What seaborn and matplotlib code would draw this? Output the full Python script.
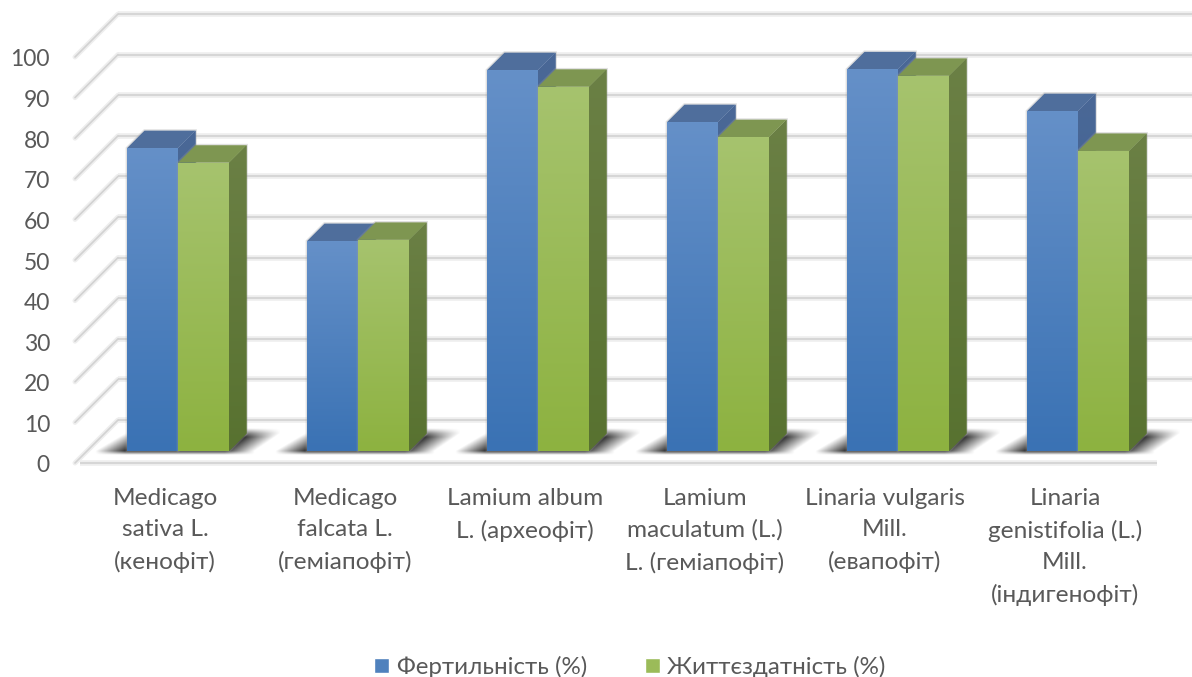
import numpy as np
import pandas as pd
import matplotlib
matplotlib.use("Agg")
import matplotlib.pyplot as plt
from matplotlib.colors import to_rgb
from matplotlib.patches import Patch, Polygon
import seaborn as sns

categories = [
    "Medicago\nsativa L.\n(кенофіт)",
    "Medicago\nfalcata L.\n(геміапофіт)",
    "Lamium album\nL. (археофіт)",
    "Lamium\nmaculatum (L.)\nL. (геміапофіт)",
    "Linaria vulgaris\nMill.\n(евапофіт)",
    "Linaria\ngenistifolia (L.)\nMill.\n(індигенофіт)",
]
fertility = [74.6, 51.7, 93.8, 81.0, 94.0, 83.7]
viability = [71.0, 52.0, 89.7, 77.3, 92.4, 73.9]
series_names = ["Фертильність (%)", "Життєздатність (%)"]
y_ticks = list(range(0, 101, 10))

WIDTH, HEIGHT = 1192, 677
STEP_PX = 180.0        # pixels per category
UNIT_PX = 4.06         # pixels per percent
ORIGIN_X, ORIGIN_Y = 178.0, 451.0   # first group centre, bar base line

def px(x):
    return (x - ORIGIN_X) / STEP_PX

def py(y):
    return (ORIGIN_Y - y) / UNIT_PX

DX, DY = 17.5 / STEP_PX, 17.5 / UNIT_PX   # bar depth
TEXT = "#595959"
FONT = ["Lato", "Open Sans", "DejaVu Sans"]

sns.set_theme(style="white")
plt.rcParams["font.family"] = FONT

df = pd.DataFrame({
    "species": categories * 2,
    "value": fertility + viability,
    "series": [series_names[0]] * len(categories) + [series_names[1]] * len(categories),
})

fig = plt.figure(figsize=(WIDTH / 100, HEIGHT / 100), dpi=100)
ax = fig.add_axes([0, 0, 1, 1])
sns.barplot(data=df, x="species", y="value", hue="series", order=categories,
            hue_order=series_names, palette=["#4f81bd", "#9bbb59"], width=102 / STEP_PX,
            gap=0, legend=False, errorbar=None, saturation=1, linewidth=0, ax=ax)

xlim = (px(0), px(WIDTH))
ylim = (py(HEIGHT), py(0))


def gradient_fill(patch, top, bottom, zorder):
    """Paint a vertical colour gradient inside a polygon or bar patch."""
    verts = patch.get_path().vertices if isinstance(patch, Polygon) else patch.get_corners()
    x0, x1 = verts[:, 0].min(), verts[:, 0].max()
    y0, y1 = verts[:, 1].min(), verts[:, 1].max()
    t = np.linspace(0, 1, 128)[:, None, None]
    img = (1 - t) * np.array(to_rgb(top))[None, None, :] + t * np.array(to_rgb(bottom))[None, None, :]
    im = ax.imshow(img, extent=(x0, x1, y0, y1), origin="upper", aspect="auto",
                   zorder=zorder, interpolation="bilinear")
    im.set_clip_path(patch)


# Walls and floor grid
wall_dy, front_dy = py(420), py(463)
wall_x, front_x = px(118), px(75)
for v in y_ticks:
    ax.plot([wall_x, xlim[1]], [v + wall_dy] * 2, color="#eeeeee", lw=4, zorder=1, solid_capstyle="butt")
    ax.plot([wall_x, xlim[1]], [v + wall_dy] * 2, color="#d2d2d2", lw=1.2, zorder=1.1, solid_capstyle="butt")
    ax.plot([front_x, wall_x], [v + front_dy, v + wall_dy], color="#eeeeee", lw=3.6, zorder=1)
    ax.plot([front_x, wall_x], [v + front_dy, v + wall_dy], color="#d2d2d2", lw=1.2, zorder=1.1)
ax.plot([px(80), px(1157)], [front_dy] * 2, color="#eeeeee", lw=4, zorder=1, solid_capstyle="butt")
ax.plot([px(80), px(1157)], [front_dy] * 2, color="#d2d2d2", lw=1.2, zorder=1.1, solid_capstyle="butt")

# Soft floor shadows behind each group
blue_bars, green_bars = ax.containers[0], ax.containers[1]
for k, (b, g) in enumerate(zip(blue_bars, green_bars)):
    left, right = b.get_x(), g.get_x() + g.get_width()
    xs = np.linspace(left - 60 / STEP_PX, right + 80 / STEP_PX, 320)
    ys = np.linspace(py(458), py(424), 70)
    X, Y = np.meshgrid(xs, ys)
    t = np.clip((Y - py(451)) / (py(433) - py(451)), 0, 1)
    edge_l = left - (32 - 30 * t) / STEP_PX
    edge_r = right + (26 + 26 * t) / STEP_PX
    fade = 30 / STEP_PX
    a_x = np.clip((X - edge_l) / fade, 0, 1) * np.clip((edge_r - X) / fade, 0, 1)
    a_y = np.clip((Y - py(455)) / (py(451) - py(455)), 0, 1) * np.clip((py(428) - Y) / (py(428) - py(437)), 0, 1)
    shade = np.zeros(X.shape + (4,))
    shade[..., 3] = 0.8 * a_x * a_y
    ax.imshow(shade, extent=(xs[0], xs[-1], ys[0], ys[-1]), origin="lower", aspect="auto",
              zorder=2, interpolation="bilinear")

# Extruded bars: blue first, green in front of it
styles = [
    (blue_bars, "#6590c8", "#3a72b4", "#4a6896", "#3a5f96", "#4f6e9c"),
    (green_bars, "#a6c36e", "#8db240", "#6b8045", "#587230", "#7e9651"),
]
for s, (bars, top, bottom, side_top, side_bottom, cap) in enumerate(styles):
    for b in bars:
        x0, w, h = b.get_x(), b.get_width(), b.get_height()
        z = 3 + s * 2
        outline = [(x0, 0), (x0, h), (x0 + DX, h + DY), (x0 + w + DX, h + DY), (x0 + w + DX, DY), (x0 + w, 0)]
        ax.add_patch(Polygon(outline, closed=True, fc="none", ec="#9a9a9a", lw=2.0, alpha=0.3, zorder=z - 0.1))
        side = Polygon([(x0 + w, 0), (x0 + w, h), (x0 + w + DX, h + DY), (x0 + w + DX, DY)],
                       closed=True, fc=side_bottom, ec="none", zorder=z)
        ax.add_patch(side)
        gradient_fill(side, side_top, side_bottom, z + 0.1)
        ax.add_patch(Polygon([(x0, h), (x0 + w, h), (x0 + w + DX, h + DY), (x0 + DX, h + DY)],
                             closed=True, fc=cap, ec="none", zorder=z + 0.1))
        b.set_zorder(z + 0.2)
        gradient_fill(b, top, bottom, z + 0.3)

# Axis text
for v in y_ticks:
    ax.text(px(50), v + py(466), str(v), ha="right", va="center", fontsize=16.5, color=TEXT, zorder=6)
for i, label in enumerate(categories):
    ax.text(i - 13 / STEP_PX, py(488), label, ha="center", va="top", fontsize=17.6,
            color=TEXT, linespacing=1.6, zorder=6)

handles = [Patch(facecolor="#4f81bd", label=series_names[0]),
           Patch(facecolor="#9bbb59", label=series_names[1])]
ax.legend(handles=handles, loc="center", bbox_to_anchor=(630 / WIDTH, 1 - 667 / HEIGHT), ncol=2, frameon=False,
          fontsize=17.4, labelcolor=TEXT, handlelength=0.62, handleheight=0.62, handletextpad=0.3,
          columnspacing=2.4, borderpad=0, borderaxespad=0)

ax.set_xlim(xlim)
ax.set_ylim(ylim)
ax.set_axis_off()
fig.savefig("out.png", dpi=100)
